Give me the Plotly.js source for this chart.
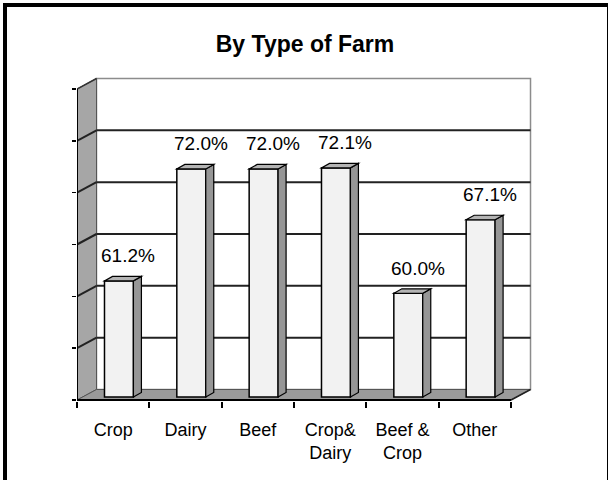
<!DOCTYPE html>
<html>
<head>
<meta charset="utf-8">
<script src="https://cdn.plot.ly/plotly-3.0.1.min.js"></script>
<style>
  html, body { margin: 0; padding: 0; background: #fff; }
  #wrap { position: relative; width: 608px; height: 480px; overflow: hidden; }
  #chart { width: 608px; height: 480px; }
  #frame { position: absolute; left: 3px; top: 3px; width: 608px; height: 484px;
           border: 4px solid #000; box-sizing: border-box; pointer-events: none; }
</style>
</head>
<body>
<div id="wrap"><div id="chart"></div><div id="frame"></div></div>
<script>
// ---- data ----
const categories = ["Crop", "Dairy", "Beef", "Crop&<br>Dairy", "Beef &<br>Crop", "Other"];
const values = [61.2, 72.0, 72.0, 72.1, 60.0, 67.1];
const valueLabels = ["61.2%", "72.0%", "72.0%", "72.1%", "60.0%", "67.1%"];
const yMin = 50, yMax = 80, yStep = 5;

const FONT = 'Liberation Sans, Arial, sans-serif';

// ---- 3D geometry (in axis units) ----
const pxX = 456 / 6.304;           // px per category
const pxY = 328 / 31.639;          // px per percent
const WALL_DX = 19.5 / pxX, WALL_DY = 10.5 / pxY;   // depth of the box
const BAR_DX = 8 / pxX, BAR_DY = 4.5 / pxY;         // depth of a bar
const BAR_OFF = -0.12, BAR_W = 0.40;                 // front face position
const BAR_LIFT = 3 / pxY;                             // bar front sits behind front edge
const xL = -0.5, xR = categories.length - 0.5;

const idx = categories.map((c, i) => i);
const shapes = [];

// back wall
shapes.push({type: 'rect', layer: 'below', xref: 'x', yref: 'y',
  x0: xL + WALL_DX, x1: xR + WALL_DX, y0: yMin + WALL_DY, y1: yMax + WALL_DY,
  fillcolor: '#ffffff', line: {color: '#8c8c8c', width: 1.5}});
// left wall
shapes.push({type: 'path', layer: 'below', xref: 'x', yref: 'y',
  path: `M${xL},${yMin} L${xL + WALL_DX},${yMin + WALL_DY} L${xL + WALL_DX},${yMax + WALL_DY} L${xL},${yMax} Z`,
  fillcolor: '#a6a6a6', line: {color: '#555', width: 1}});
// floor
shapes.push({type: 'path', layer: 'below', xref: 'x', yref: 'y',
  path: `M${xL},${yMin} L${xR},${yMin} L${xR + WALL_DX},${yMin + WALL_DY} L${xL + WALL_DX},${yMin + WALL_DY} Z`,
  fillcolor: '#9a9a9a', line: {color: '#555', width: 1}});
// gridlines (back wall + left wall)
for (let g = yMin + yStep; g < yMax; g += yStep) {
  shapes.push({type: 'line', layer: 'below', xref: 'x', yref: 'y',
    x0: xL + WALL_DX, x1: xR + WALL_DX, y0: g + WALL_DY, y1: g + WALL_DY,
    line: {color: '#222', width: 2}});
  shapes.push({type: 'line', layer: 'below', xref: 'x', yref: 'y',
    x0: xL, x1: xL + WALL_DX, y0: g, y1: g + WALL_DY,
    line: {color: '#222', width: 2}});
}
// top edge of left wall
shapes.push({type: 'line', layer: 'below', xref: 'x', yref: 'y',
  x0: xL, x1: xL + WALL_DX, y0: yMax, y1: yMax + WALL_DY, line: {color: '#333', width: 1.5}});
// left front edge (axis line)
shapes.push({type: 'line', layer: 'below', xref: 'x', yref: 'y',
  x0: xL, x1: xL, y0: yMin, y1: yMax, line: {color: '#000', width: 2}});
// front floor edge (axis line)
shapes.push({type: 'line', layer: 'above', xref: 'x', yref: 'y',
  x0: xL, x1: xR, y0: yMin, y1: yMin, line: {color: '#000', width: 2}});
// right floor edge
shapes.push({type: 'line', layer: 'below', xref: 'x', yref: 'y',
  x0: xR, x1: xR + WALL_DX, y0: yMin, y1: yMin + WALL_DY, line: {color: '#222', width: 1.5}});

// bar side and top faces
values.forEach((v, i) => {
  const xa = i + BAR_OFF, xb = i + BAR_OFF + BAR_W;
  const b = yMin + BAR_LIFT, t = v + BAR_LIFT;
  shapes.push({type: 'path', layer: 'above', xref: 'x', yref: 'y',
    path: `M${xb},${b} L${xb + BAR_DX},${b + BAR_DY} L${xb + BAR_DX},${t + BAR_DY} L${xb},${t} Z`,
    fillcolor: '#969696', line: {color: '#000', width: 1.2}});
  shapes.push({type: 'path', layer: 'above', xref: 'x', yref: 'y',
    path: `M${xa},${t} L${xb},${t} L${xb + BAR_DX},${t + BAR_DY} L${xa + BAR_DX},${t + BAR_DY} Z`,
    fillcolor: '#b4b4b4', line: {color: '#000', width: 1.2}});
});

const trace = {
  type: 'bar',
  x: idx,
  y: values.map(v => v - yMin),
  base: yMin + BAR_LIFT,
  offset: BAR_OFF,
  width: BAR_W,
  marker: {color: '#f2f2f2', line: {color: '#000', width: 1.5}},
  hoverinfo: 'skip',
  showlegend: false
};

const annotations = values.map((v, i) => ({
  x: i, y: v, xref: 'x', yref: 'y', text: valueLabels[i], showarrow: false,
  xanchor: 'center', yanchor: 'middle', xshift: 15, yshift: 28,
  font: {family: FONT, size: 19, color: '#000'}
}));

const ticks = [];
for (let g = yMin; g <= yMax; g += yStep) ticks.push(g);
const bounds = [];
for (let i = 0; i <= categories.length; i++) bounds.push(i - 0.5);

const layout = {
  width: 608, height: 480,
  margin: {l: 77, r: 75, t: 73, b: 79, pad: 0},
  paper_bgcolor: '#ffffff', plot_bgcolor: 'rgba(0,0,0,0)',
  title: {text: 'By Type of Farm', x: 0.5, xref: 'paper', xanchor: 'center',
          y: 1 - 44 / 480, yref: 'container', yanchor: 'middle',
          font: {family: FONT, size: 23, weight: 'bold', color: '#000'}},
  xaxis: {type: 'linear', range: [-0.5, -0.5 + 6.304], tickmode: 'array', tickvals: idx,
          ticktext: categories, ticks: '', showgrid: false, zeroline: false, showline: false,
          tickfont: {family: FONT, size: 18, color: '#000'}, ticklabelstandoff: 16,
          minor: {tickmode: 'array', tickvals: bounds, ticks: 'outside', ticklen: 6,
                  tickwidth: 2, tickcolor: '#000', showgrid: false},
          fixedrange: true},
  yaxis: {range: [yMin - 1 / pxY, yMin - 1 / pxY + 31.639], tickmode: 'array', tickvals: ticks,
          showticklabels: false, ticks: 'outside', ticklen: 4, tickwidth: 1.5, tickcolor: '#000',
          showgrid: false, zeroline: false, showline: false, fixedrange: true},
  shapes: shapes,
  annotations: annotations,
  showlegend: false,
  bargap: 0
};

Plotly.newPlot('chart', [trace], layout, {displayModeBar: false, staticPlot: true});
</script>
</body>
</html>
